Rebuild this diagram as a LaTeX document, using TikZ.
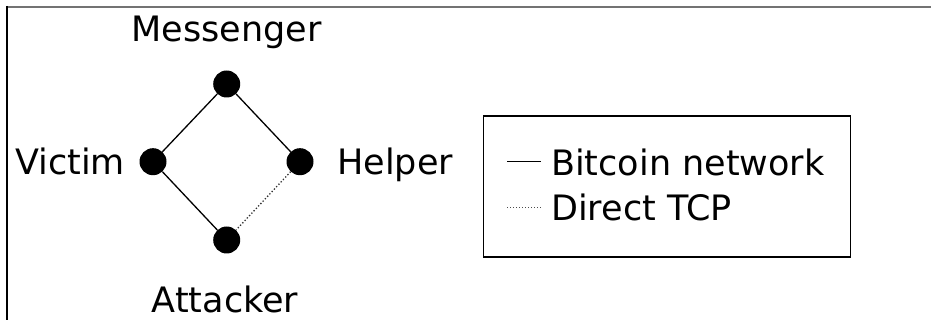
\documentclass[tikz,border=0pt]{standalone}
\usepackage{fontspec}
\setmainfont{DejaVu Sans}
\begin{document}
\begin{tikzpicture}[x=1pt,y=-1pt,
  peer/.style={circle,fill=black,inner sep=0pt,minimum size=27pt},
  lbl/.style={font=\fontsize{35}{40}\selectfont,inner sep=0pt},
  link/.style={line width=1.3pt},
  tcp/.style={line width=1.3pt,dotted,draw=black!80}]
\useasboundingbox (0,0) rectangle (931,320);
\draw[line width=2pt,draw=black!55] (6,7) -- (931,7);
\draw[line width=2pt] (7,6) -- (7,320);
\node[peer] (m) at (226.7,84) {};
\node[peer] (v) at (153,161.7) {};
\node[peer] (h) at (300,161.7) {};
\node[peer] (a) at (226.7,240) {};
\draw[link] (m) -- (v);
\draw[link] (m) -- (h);
\draw[link] (v) -- (a);
\draw[tcp] (h) -- (a);
\node[lbl,anchor=base] (ml) at (226.5,42) {Messenger};
\node[lbl,anchor=base east] (vl) at (125,175) {Victim};
\node[lbl,anchor=base west] (hl) at (337,175) {Helper};
\node[lbl,anchor=base] (al) at (225,312) {Attacker};
\node[draw,line width=1.5pt,minimum width=367pt,minimum height=141pt,inner sep=0pt] (leg) at (667,186.5) {};
\coordinate (s1) at (507,162);
\coordinate (s2) at (541,162);
\coordinate (d1) at (507,208);
\coordinate (d2) at (541,208);
\draw[line width=1pt] (s1) -- (s2);
\draw[line width=1pt,dotted,draw=black!70] (d1) -- (d2);
\node[lbl,anchor=base west] (bl) at (551,176) {Bitcoin network};
\node[lbl,anchor=base west] (dl) at (551,221) {Direct TCP};
\end{tikzpicture}
\end{document}
